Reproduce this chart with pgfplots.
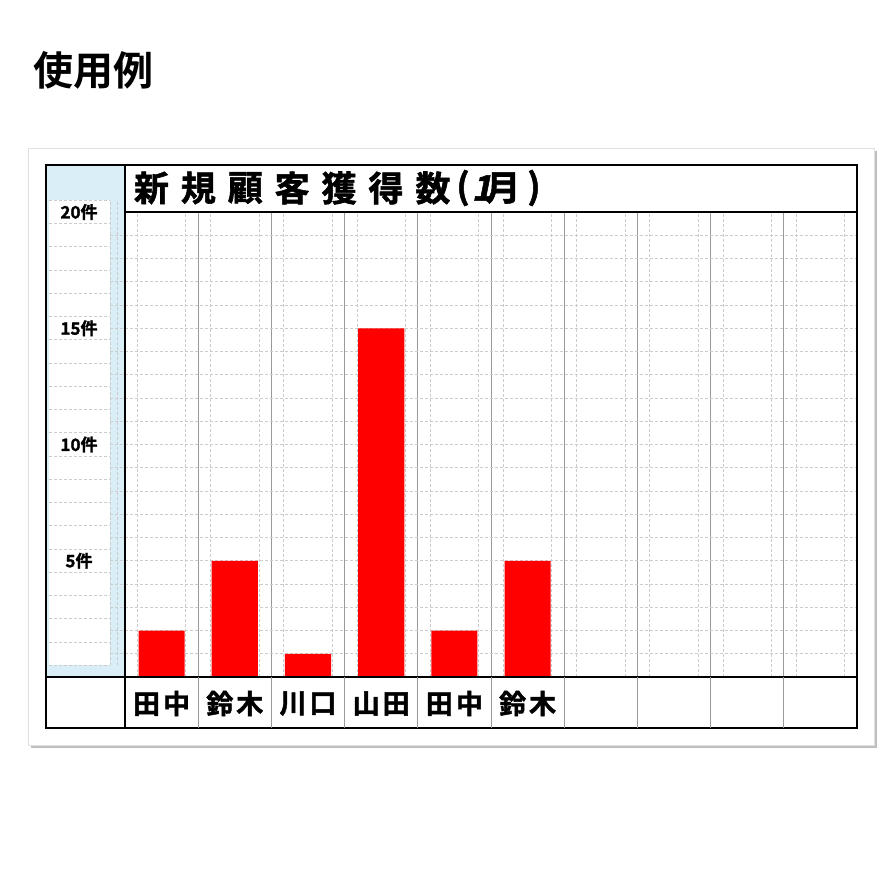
\documentclass[border=0pt]{standalone}
\usepackage{fontspec}
\usepackage{pgfplots}
\pgfplotsset{compat=1.18}
\newfontfamily\jpb{Noto Sans CJK JP Bold}
\newfontfamily\jph{Noto Sans CJK JP Bold}[FakeBold=1.6]
\newfontfamily\jpsl{Noto Sans CJK JP Bold}[FakeSlant=0.2,FakeBold=1.6]
\definecolor{panelblue}{HTML}{DAEEF7}
\definecolor{colline}{HTML}{9A9A9A}
\definecolor{dashgrid}{HTML}{CCCCCC}
% one unit of the value axis is 23.25pt, the zero line sits at -677
\newcommand{\py}[1]{-677+(#1)*23.25}

\begin{document}
\begin{tikzpicture}[x=1pt,y=1pt]
\fill[white] (0,0) rectangle (894,-894);

% card and its shadow
\fill[black!25] (31,-151) rectangle (877,-748);
\fill[white,draw=black!12] (28,-148) rectangle (874,-745);

% left blue column with the white label panel
\fill[panelblue] (46,-165) rectangle (125,-677);
\fill[white] (49,{\py{0.5}}) rectangle (110,{\py{20.5}});
\foreach \k in {0,...,20}
  \draw[dashgrid,densely dashed,line width=0.8pt] (49,{\py{\k+0.5}}) -- (110,{\py{\k+0.5}});
\foreach \k in {1,...,19}
  \draw[dashgrid,densely dashed,line width=0.8pt] (110,{\py{\k}}) -- (125,{\py{\k}});
\draw[dashgrid,densely dashed,line width=0.8pt] (110,{\py{0.5}}) -- (110,{\py{20.5}});
\draw[dashgrid,densely dashed,line width=0.8pt] (117,{\py{0.5}}) -- (117,{\py{20.5}});

\begin{axis}[
  at={(125pt,-677pt)}, anchor=south west,
  scale only axis, width=732pt, height=465pt,
  xmin=0, xmax=10, ymin=0, ymax=20,
  axis line style={draw=none},
  xtick={0,...,10},
  minor xtick={0.17,0.83,1.17,1.83,2.17,2.83,3.17,3.83,4.17,4.83,5.17,5.83,6.17,6.83,7.17,7.83,8.17,8.83,9.17,9.83},
  ytick={1,...,19},
  xticklabels={}, yticklabels={},
  major tick length=0pt, minor tick length=0pt,
  xmajorgrids, xminorgrids, ymajorgrids,
  major x grid style={colline,line width=1pt},
  minor x grid style={dashgrid,densely dashed,line width=0.8pt},
  major y grid style={dashgrid,densely dashed,line width=0.8pt},
  ybar, bar width=0.63,
]
\addplot[fill=red,draw=none] coordinates {
  (0.5,2) (1.5,5) (2.5,1) (3.5,15) (4.5,2) (5.5,5)
};
\end{axis}

% frame of the sheet
\draw[line width=2pt] (46,-165) rectangle (857,-728);
\draw[line width=2pt] (125,-165) -- (125,-728);
\draw[line width=2pt] (125,-212) -- (857,-212);
\draw[line width=2pt] (46,-677) -- (857,-677);
\foreach \i in {1,...,9}
  \draw[colline,line width=1pt] ({125+\i*73.2},-677) -- ({125+\i*73.2},-728);

% texts
\node[anchor=west,inner sep=0pt,font=\jpb\fontsize{40}{40}\selectfont] at (33,-70) {使用例};

\foreach \c [count=\i from 0] in {新,規,顧,客,獲,得,数}
  \node[inner sep=0pt,font=\jph\fontsize{35}{35}\selectfont] at ({151.5+\i*46.9},-188) {\c};
\node[inner sep=0pt,font=\jph\fontsize{35}{35}\selectfont] at (463,-188) {(};
\node[inner sep=0pt,font=\jpsl\fontsize{35}{35}\selectfont] at (482,-188) {1};
\node[inner sep=0pt,font=\jph\fontsize{35}{35}\selectfont] at (503,-188) {月};
\node[inner sep=0pt,font=\jph\fontsize{35}{35}\selectfont] at (534,-188) {)};

\foreach \v in {5,10,15,20}
  \node[inner sep=0pt,font=\jph\fontsize{17}{17}\selectfont] at (79,{\py{\v}}) {{\v}件};

\foreach \n [count=\i from 0] in {田\kern3pt 中,鈴\kern3pt 木,川\kern3pt 口,山\kern3pt 田,田\kern3pt 中,鈴\kern3pt 木}
  \node[inner sep=0pt,font=\jph\fontsize{27}{27}\selectfont] at ({125+(\i+0.5)*73.2},-703.5) {\n};
\end{tikzpicture}
\end{document}
